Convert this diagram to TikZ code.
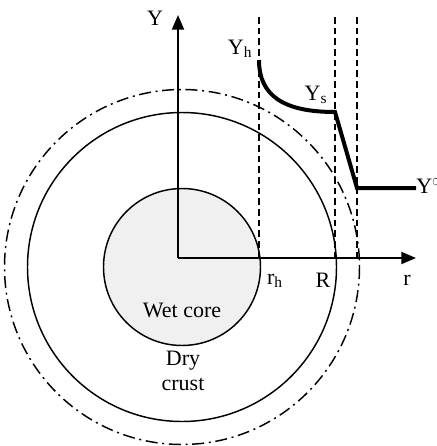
\documentclass[tikz,border=0pt]{standalone}
\usepackage{fontspec}
\setmainfont{Liberation Serif}
\usetikzlibrary{arrows.meta}
\tikzset{
  lbl/.style={inner sep=0pt, font=\fontsize{16.5}{19}\selectfont},
  guide/.style={dash pattern=on 5pt off 3pt, line width=1.1pt},
  shell/.style={line width=1.1pt},
  outer/.style={line width=1.1pt, dash pattern=on 9pt off 3.5pt on 1.5pt off 3.5pt},
  axis/.style={line width=1.5pt, -{Triangle[length=11pt,width=9pt]}},
  profile/.style={line width=3pt, line join=miter}
}
\begin{document}
\begin{tikzpicture}[x=0.75pt,y=-0.75pt]
    \useasboundingbox (0,0) rectangle (436,446);

    % Particle shells
    \fill[gray!12] (182,267) circle (78.5);
    \draw[shell] (182,267) circle (78.5);
    \draw[shell] (182,267) circle (154.5);
    \draw[outer] (182,267) circle (177.5);

    % Axes
    \coordinate (o) at (178,258);
    \coordinate (ytip) at (178,15);
    \coordinate (rtip) at (416,258);
    \draw[axis] (o) -- (ytip);
    \draw[axis] (o) -- (rtip);
    \node[lbl] (ylab) at (155,18) {Y};
    \node[lbl] (rlab) at (407,280) {r};

    % Guide lines at r_h, R and outer edge
    \foreach \x/\n in {259/h, 335/s, 357/e} {
        \coordinate (top\n) at (\x,17);
        \coordinate (bot\n) at (\x,258);
        \draw[guide] (top\n) -- (bot\n);
      }
    \node[lbl] (rh) at (275,281) {r\textsubscript{h}};
    \node[lbl] (bigR) at (323,280) {R};

    % Concentration profile
    \coordinate (ph) at (259,60);
    \coordinate (ps) at (335,112);
    \coordinate (pe) at (357,188);
    \coordinate (pinf) at (416,188);
    \draw[profile] (ph) .. controls (259,96) and (284,112) .. (ps) -- (pe) -- (pinf);
    \node[lbl] (yh) at (240,49) {Y\textsubscript{h}};
    \node[lbl] (ys) at (316,95) {Y\textsubscript{s}};
    \node[lbl, anchor=west] (yinf) at (416,186) {Y\textsuperscript{$\propto$}};

    % Region names
    \node[lbl] (wet) at (182,310) {Wet core};
    \node[lbl, align=center] (dry) at (183,371) {Dry\\crust};
  \end{tikzpicture}
\end{document}
